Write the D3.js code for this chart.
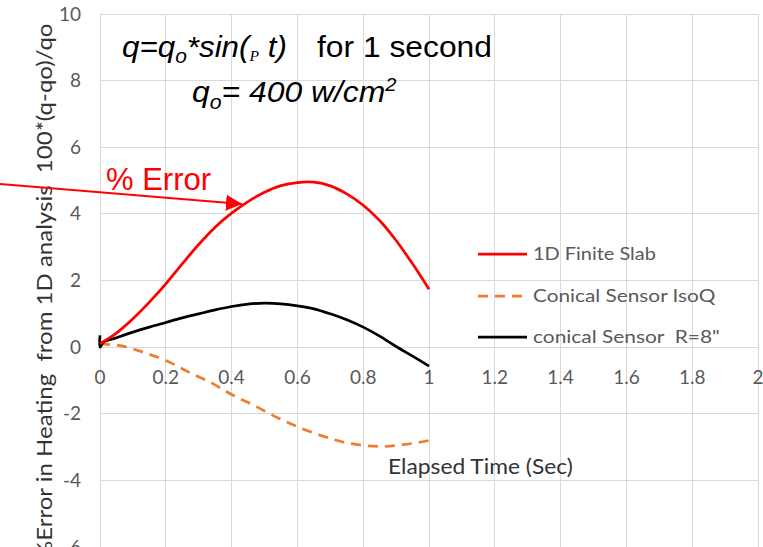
<!DOCTYPE html>
<html>
<head>
<meta charset="utf-8">
<script src="https://cdn.jsdelivr.net/npm/d3@7"></script>
<style>
  html, body { margin: 0; padding: 0; background: #fff; }
  svg { display: block; }
  text { white-space: pre; }
</style>
</head>
<body>
<svg id="chart" width="763" height="547"></svg>
<script>
// ---------- data ----------
const xTickValues = [0, 0.2, 0.4, 0.6, 0.8, 1, 1.2, 1.4, 1.6, 1.8, 2];
const xTickLabels = ["0", "0.2", "0.4", "0.6", "0.8", "1", "1.2", "1.4", "1.6", "1.8", "2"];
const yTickValues = [-6, -4, -2, 0, 2, 4, 6, 8, 10];
const yTickLabels = ["-6", "-4", "-2", "0", "2", "4", "6", "8", "10"];

const seriesNames = ["1D Finite Slab", "Conical Sensor IsoQ", "conical Sensor  R=8\""];

// 1D Finite Slab
const slabTime = [0, 0.05, 0.1, 0.15, 0.2, 0.25, 0.3, 0.35, 0.4, 0.45, 0.5, 0.55, 0.6, 0.65, 0.7, 0.75, 0.8, 0.85, 0.9, 0.95, 1.0];
const slabErr  = [0.1, 0.42, 0.85, 1.35, 1.9, 2.5, 3.08, 3.6, 4.02, 4.37, 4.65, 4.85, 4.94, 4.95, 4.84, 4.6, 4.26, 3.8, 3.2, 2.5, 1.74];

// Conical Sensor IsoQ
const isoTime = [0, 0.07, 0.13, 0.2, 0.27, 0.34, 0.4, 0.47, 0.54, 0.61, 0.68, 0.74, 0.8, 0.86, 0.92, 0.98, 1.0];
const isoErr  = [0.1, 0.03, -0.15, -0.4, -0.75, -1.08, -1.42, -1.76, -2.12, -2.43, -2.68, -2.85, -2.95, -2.98, -2.93, -2.84, -2.8];

// conical Sensor R=8"
const coneTime = [0, 0, 0.01, 0.05, 0.1, 0.15, 0.2, 0.25, 0.3, 0.35, 0.4, 0.45, 0.5, 0.55, 0.6, 0.65, 0.7, 0.75, 0.8, 0.85, 0.9, 0.95, 1.0];
const coneErr  = [0.35, 0.0, 0.14, 0.28, 0.45, 0.6, 0.74, 0.88, 1.0, 1.12, 1.22, 1.29, 1.32, 1.3, 1.24, 1.15, 1.0, 0.82, 0.6, 0.33, 0.02, -0.27, -0.57];

// ---------- chart ----------
const svg = d3.select("#chart");
const x = d3.scaleLinear().domain([0, 2]).range([100, 758]);
const y = d3.scaleLinear().domain([-6, 10]).range([547, 14]);

const gridColor = "#d9d9d9";
const tickColor = "#595959";

function fitWidth(sel, w) {
  const bb = sel.node().getBBox();
  const s = w / bb.width;
  const x0 = bb.x;
  const prev = sel.attr("transform") || "";
  sel.attr("transform", prev + ` translate(${x0},0) scale(${s},1) translate(${-x0},0)`);
}

// gridlines
svg.append("g").selectAll("line.v").data(xTickValues).join("line")
  .attr("x1", d => x(d)).attr("x2", d => x(d))
  .attr("y1", y(10)).attr("y2", y(-6))
  .attr("stroke", gridColor).attr("stroke-width", 1).attr("shape-rendering", "crispEdges");
svg.append("g").selectAll("line.h").data(yTickValues).join("line")
  .attr("x1", x(0)).attr("x2", x(2))
  .attr("y1", d => y(d)).attr("y2", d => y(d))
  .attr("stroke", gridColor).attr("stroke-width", 1).attr("shape-rendering", "crispEdges");

// y tick labels
svg.append("g").selectAll("text").data(yTickValues).join("text")
  .attr("x", 81).attr("y", d => y(d) + 6.5)
  .attr("text-anchor", "end")
  .attr("font-family", "Lato, 'Open Sans', sans-serif")
  .attr("font-size", 19)
  .attr("fill", tickColor)
  .text((d, i) => yTickLabels[i]);

// x tick labels (at y = 0 axis)
svg.append("g").selectAll("text").data(xTickValues).join("text")
  .attr("x", d => x(d)).attr("y", y(0) + 37)
  .attr("text-anchor", "middle")
  .attr("font-family", "Lato, 'Open Sans', sans-serif")
  .attr("font-size", 19)
  .attr("fill", tickColor)
  .text((d, i) => xTickLabels[i]);

// series
const line = d3.line().x(d => x(d[0])).y(d => y(d[1])).curve(d3.curveCatmullRom.alpha(0.5));
const zip = (a, b) => a.map((v, i) => [v, b[i]]);

svg.append("path").datum(zip(isoTime, isoErr))
  .attr("d", line).attr("fill", "none")
  .attr("stroke", "#ed7d31").attr("stroke-width", 2.75)
  .attr("stroke-dasharray", "10,7");
svg.append("path").datum(zip(coneTime, coneErr))
  .attr("d", line).attr("fill", "none")
  .attr("stroke", "#000").attr("stroke-width", 2.75).attr("stroke-linejoin", "round");
svg.append("path").datum(zip(slabTime, slabErr))
  .attr("d", line).attr("fill", "none")
  .attr("stroke", "#ff0000").attr("stroke-width", 2.75).attr("stroke-linejoin", "round");

// legend
const legendColors = ["#ff0000", "#ed7d31", "#000"];
const legendDash = [null, "10,7", null];
const legendY = [254, 296, 337];
const legendW = [123, 183, 187];
seriesNames.forEach((name, i) => {
  svg.append("line")
    .attr("x1", 478).attr("x2", 527)
    .attr("y1", legendY[i]).attr("y2", legendY[i])
    .attr("stroke", legendColors[i]).attr("stroke-width", 2.75)
    .attr("stroke-dasharray", legendDash[i]);
  const t = svg.append("text")
    .attr("x", 533).attr("y", legendY[i] + 6)
    .attr("font-family", "Lato, 'Open Sans', sans-serif")
    .attr("font-size", 17)
    .attr("fill", tickColor)
    .text(name);
  fitWidth(t, legendW[i]);
});

// x axis title
const xt = svg.append("text")
  .attr("x", 388).attr("y", 474)
  .attr("font-family", "Lato, 'Open Sans', sans-serif")
  .attr("font-size", 21)
  .attr("fill", "#333")
  .text("Elapsed Time (Sec)");
fitWidth(xt, 185);

// y axis title (runs from the bottom edge up to y = 23)
const yg = svg.append("g").attr("transform", "translate(52,560) rotate(-90)");
const yt = yg.append("text")
  .attr("x", 0).attr("y", 0)
  .attr("text-anchor", "start")
  .attr("font-family", "Lato, 'Open Sans', sans-serif")
  .attr("font-size", 21)
  .attr("fill", "#333")
  .text("%Error in Heating  from 1D analysis  100*(q-qo)/qo");
fitWidth(yt, 537);

// annotation: formula line 1
const f1 = svg.append("text")
  .attr("x", 122).attr("y", 57)
  .attr("font-family", "'Liberation Sans', Arial, sans-serif")
  .attr("font-style", "italic")
  .attr("font-size", 30)
  .attr("fill", "#000");
f1.append("tspan").text("q=q");
f1.append("tspan").attr("font-size", 20).attr("dy", 6).text("o");
f1.append("tspan").attr("dy", -6).text("*sin(");
f1.append("tspan").attr("font-family", "'Liberation Serif', serif").attr("font-size", 15).attr("dy", 4).text("P");
f1.append("tspan").attr("dy", -4).text(" t)");
fitWidth(f1, 165);

const f1b = svg.append("text")
  .attr("x", 317).attr("y", 57)
  .attr("font-family", "'Liberation Sans', Arial, sans-serif")
  .attr("font-size", 30)
  .attr("fill", "#000")
  .text("for 1 second");
fitWidth(f1b, 175);

// annotation line 2
const f2 = svg.append("text")
  .attr("x", 192).attr("y", 102)
  .attr("font-family", "'Liberation Sans', Arial, sans-serif")
  .attr("font-style", "italic")
  .attr("font-size", 30)
  .attr("fill", "#000");
f2.append("tspan").text("q");
f2.append("tspan").attr("font-size", 20).attr("dy", 7).text("o");
f2.append("tspan").attr("dy", -7).text("= 400 w/cm");
f2.append("tspan").attr("font-size", 19).attr("dy", -11).text("2");
fitWidth(f2, 205);

// "% Error" callout
svg.append("text")
  .attr("x", 106).attr("y", 190)
  .attr("font-family", "'Liberation Sans', Arial, sans-serif")
  .attr("font-size", 31)
  .attr("fill", "#ff0000")
  .text("% Error");

svg.append("defs").append("marker")
  .attr("id", "arrow").attr("viewBox", "0 0 10 10")
  .attr("refX", 10).attr("refY", 5)
  .attr("markerWidth", 8).attr("markerHeight", 8)
  .attr("markerUnits", "strokeWidth")
  .attr("orient", "auto")
  .append("path").attr("d", "M0,0 L10,5 L0,10 z").attr("fill", "#ff0000");

svg.append("line")
  .attr("x1", 0).attr("y1", 184)
  .attr("x2", 242).attr("y2", 204)
  .attr("stroke", "#ff0000").attr("stroke-width", 2)
  .attr("marker-end", "url(#arrow)");
</script>
</body>
</html>
